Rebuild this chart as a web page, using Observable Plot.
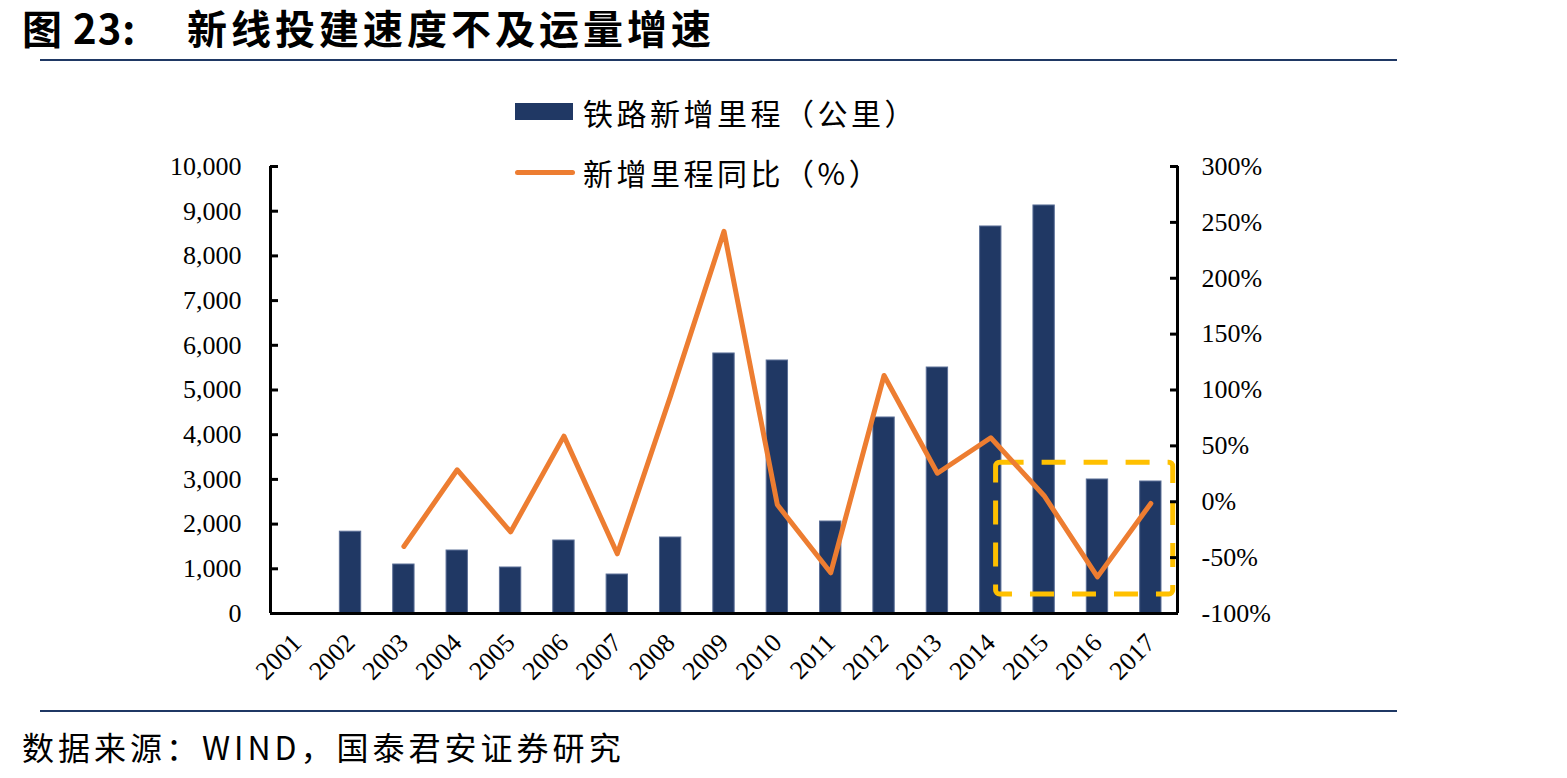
<!DOCTYPE html>
<html>
<head>
<meta charset="utf-8">
<script src="https://cdn.jsdelivr.net/npm/d3@7"></script>
<script src="https://cdn.jsdelivr.net/npm/@observablehq/plot@0.6"></script>
<style>
  body { margin: 0; background: #fff; }
  #page { position: relative; width: 1567px; height: 778px; overflow: hidden; background: #fff;
          font-family: "Noto Sans CJK SC", sans-serif; color: #000; }
  .abs { position: absolute; white-space: pre; line-height: 1.25; }
  .title { font-size: 40px; font-weight: 700; letter-spacing: 4px; }
  .rule { position: absolute; left: 40px; width: 1357px; height: 2px; background: #1F3864; }
  .legend { font-size: 30px; letter-spacing: 3.5px; }
  .source { font-size: 32px; letter-spacing: 4px; }
  #chart { position: absolute; left: 0; top: 140px; }
</style>
</head>
<body>
<div id="page">
  <div class="abs title" style="left:22px;top:2px;letter-spacing:1px">图 23:</div>
  <div class="abs title" style="left:187px;top:2px">新线投建速度不及运量增速</div>
  <div class="rule" style="top:59px"></div>

  <div id="chart"></div>

  <!-- legend -->
  <div class="abs" style="left:515px;top:103px;width:58px;height:17px;background:#203864"></div>
  <div class="abs legend" style="left:583px;top:94px">铁路新增里程（公里）</div>
  <div class="abs" style="left:515px;top:170px;width:60px;height:5px;border-radius:3px;background:#ED7D31"></div>
  <div class="abs legend" style="left:583px;top:154px">新增里程同比（%）</div>

  <div class="rule" style="top:710px"></div>
  <div class="abs source" style="left:22px;top:726px">数据来源：WIND，国泰君安证券研究</div>
</div>

<script>
// Railway: new track laid each year (km) and its year-on-year change (%)
const years = [2001, 2002, 2003, 2004, 2005, 2006, 2007, 2008, 2009,
               2010, 2011, 2012, 2013, 2014, 2015, 2016, 2017];
const newTrackKm = [null, 1830, 1096, 1409, 1029, 1633, 872, 1700, 5817,
                    5660, 2058, 4385, 5503, 8658, 9128, 2998, 2953];
const trackYoYPct = [null, null, -40, 28.6, -27, 58.7, -46.6, 95, 242,
                     -2.7, -63.6, 113, 25.5, 57.3, 5.4, -67.2, -1.5];

// axis ticks
const kmTicks = [0, 1000, 2000, 3000, 4000, 5000, 6000, 7000, 8000, 9000, 10000];
const pctTicks = [-100, -50, 0, 50, 100, 150, 200, 250, 300];

// dashed call-out around the 2015–2017 slowdown (years, percent)
const calloutYears = [2014.1, 2017.42];
const calloutPct = [-83, 35];

const navy = "#203864", orange = "#ED7D31", gold = "#FFC000";
const serif = `"Liberation Serif", "Times New Roman", serif`;
const xDomain = [2000.5, 2017.5];

// the right-hand axis (-100%..300%) shares the left 0..10,000 scale
const pctToKm = p => (p + 100) * 25;
const kmToPct = v => v / 25 - 100;

const bars = years.map((year, i) => ({year, km: newTrackKm[i]})).filter(d => d.km != null);
const growth = years.map((year, i) => ({year, pct: trackYoYPct[i]})).filter(d => d.pct != null);
const callout = [{x1: calloutYears[0], x2: calloutYears[1],
                  y1: pctToKm(calloutPct[0]), y2: pctToKm(calloutPct[1])}];

const chart = Plot.plot({
  width: 1567,
  height: 560,
  marginLeft: 270,
  marginRight: 390,
  marginTop: 26,
  marginBottom: 87,
  style: {fontFamily: serif, background: "white", color: "black"},
  x: {domain: xDomain},
  y: {domain: [0, 10000]},
  marks: [
    Plot.rectY(bars, {x1: d => d.year - 0.2, x2: d => d.year + 0.2, y: "km",
                      fill: navy, stroke: "#5b6f97", strokeWidth: 1}),
    Plot.rect(callout, {x1: "x1", x2: "x2", y1: "y1", y2: "y2", fill: "none",
                        stroke: gold, strokeWidth: 5, strokeDasharray: "24,18", rx: 4}),
    Plot.line(growth, {x: "year", y: d => pctToKm(d.pct), stroke: orange, strokeWidth: 5,
                       strokeLinejoin: "round", strokeLinecap: "round"}),
    Plot.ruleX(xDomain, {stroke: "black", strokeWidth: 3}),
    Plot.ruleY([0], {stroke: "black", strokeWidth: 3}),
    Plot.axisY({anchor: "left", ticks: kmTicks, tickFormat: d3.format(","),
                tickSize: 8, dx: 8, tickPadding: 29, strokeWidth: 3, fontSize: 26}),
    Plot.axisY({anchor: "right", ticks: pctTicks.map(pctToKm), tickFormat: v => `${Math.round(kmToPct(v))}%`,
                tickSize: 8, dx: -8, tickPadding: 24, strokeWidth: 3, fontSize: 26}),
    Plot.axisX({ticks: years, tickFormat: d => String(d), tickRotate: -45,
                tickSize: 0, tickPadding: 25, fontSize: 26})
  ]
});

document.getElementById("chart").append(chart);
</script>
</body>
</html>
